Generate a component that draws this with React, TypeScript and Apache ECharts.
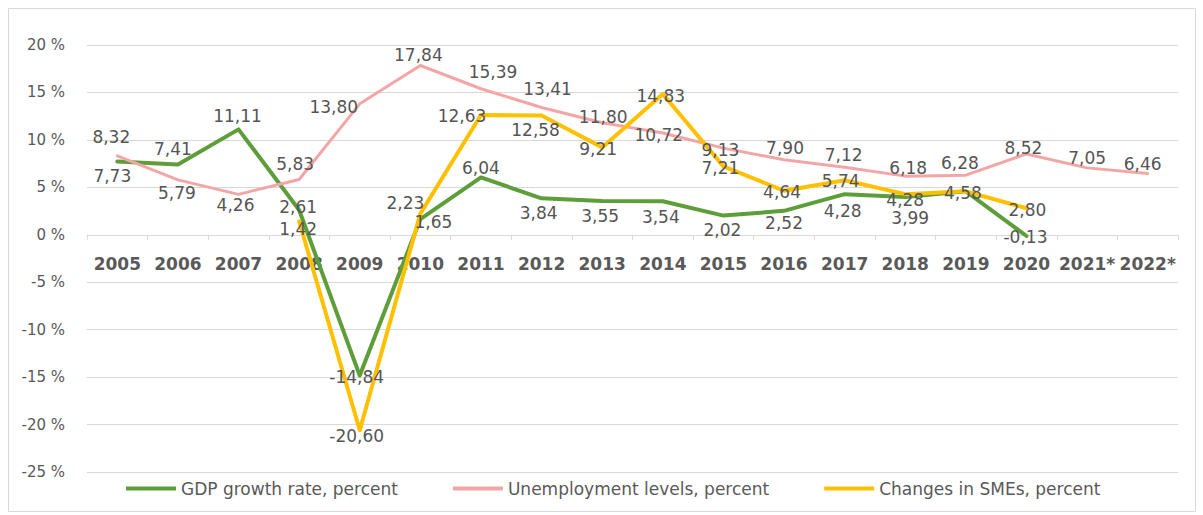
import React, { useEffect, useRef } from "react";
import * as echarts from "echarts";

const years = ["2005", "2006", "2007", "2008", "2009", "2010", "2011", "2012", "2013", "2014", "2015", "2016", "2017", "2018", "2019", "2020", "2021*", "2022*"];
const gdpGrowth = [7.73, 7.41, 11.11, 2.61, -14.84, 1.65, 6.04, 3.84, 3.55, 3.54, 2.02, 2.52, 4.28, 3.99, 4.58, -0.13, null, null];
const unemployment = [8.32, 5.79, 4.26, 5.83, 13.8, 17.84, 15.39, 13.41, 11.8, 10.72, 9.13, 7.9, 7.12, 6.18, 6.28, 8.52, 7.05, 6.46];
const smeChanges = [null, null, null, 1.42, -20.6, 2.23, 12.63, 12.58, 9.21, 14.83, 7.21, 4.64, 5.74, 4.28, 4.58, 2.8, null, null];

const seriesNames = ["GDP growth rate, percent", "Unemployment levels, percent", "Changes in SMEs, percent"];
const yTicks = { min: -25, max: 20, step: 5 };

// label offsets (pixels from point), null = hidden
const gdpLabelOffsets = [[-5, 15], [-5, -15], [-1, -13], [-1, -3], [-3, 1], [13, 3], [0, -9], [-3, 15], [-2, 15], [-2, 16], [-1, 14], [0, 12], [-2, 17], [5, 21], null, [-1, 1], null, null];
const unempLabelOffsets = [[-6, -19], [-1, 13], [-3, 11], [-4, -15], [-26, 3], [-2, -10], [12, -17], [6, -19], [1, -6], [-4, 2], [-3, 2], [1, -12], [-1, -12], [3, -8], [-6, -12], [-3, -6], [0, -10], [-5, -9]];
const smeLabelOffsets = [null, null, null, [-1, 8], [-3, 6], [-15, -11], [-19, 1], [-6, 15], [-4, 2], [-2, 2], [-3, 2], [-2, 1], [-4, 1], [0, 6], [-3, 2], [1, 2], null, null];

const FONT = '"DejaVu Sans", sans-serif';
const TEXT = "#595959";
const GRID = "#d9d9d9";
const colors = ["#5E9E3A", "#F4A6A6", "#FFC000"];

function buildData(vals: (number | null)[], offs: (number[] | null)[]) {
  return vals.map((v, i) =>
    v == null
      ? "-"
      : { value: v, label: offs[i] ? { show: true, offset: offs[i] } : { show: false } }
  );
}

export default function App() {
  const ref = useRef<HTMLDivElement>(null);
  useEffect(() => {
    const chart = echarts.init(ref.current!, null, { renderer: "svg" });
    const mkSeries = (name: string, vals: (number | null)[], offs: (number[] | null)[], color: string, width: number) => ({
      name,
      type: "line",
      xAxisIndex: 0,
      yAxisIndex: 0,
      data: buildData(vals, offs),
      symbol: "circle",
      symbolSize: 1,
      showSymbol: true,
      itemStyle: { color },
      lineStyle: { color, width, cap: "round", join: "round" },
      connectNulls: false,
      label: {
        show: true,
        position: "inside",
        fontFamily: FONT,
        fontSize: 17,
        color: "#555",
        formatter: (p: any) => Number(p.value).toFixed(2).replace(".", ","),
      },
    });
    chart.setOption({
      animation: false,
      backgroundColor: "#fff",
      graphic: [
        {
          type: "rect",
          shape: { x: 8.5, y: 8.5, width: 1187, height: 503 },
          style: { fill: "none", stroke: GRID, lineWidth: 1 },
          silent: true,
        },
      ],
      grid: [
        { left: 87, right: 25, top: 45, bottom: 43, containLabel: false },
        // label band: its bottom edge sits on the 0 % line
        { left: 87, right: 25, top: 45, height: 189, containLabel: false },
      ],
      legend: {
        data: seriesNames,
        left: 126,
        top: 480,
        padding: 0,
        itemGap: 55,
        itemWidth: 50,
        itemHeight: 4,
        icon: "rect",
        textStyle: { fontFamily: FONT, fontSize: 17, color: TEXT },
      },
      xAxis: [
        {
          type: "category",
          gridIndex: 0,
          data: years,
          boundaryGap: true,
          axisLine: { onZero: true, lineStyle: { color: GRID, width: 1 } },
          axisTick: { show: true, length: 5, lineStyle: { color: GRID } },
          axisLabel: { show: false },
          splitLine: { show: false },
        },
        {
          type: "category",
          gridIndex: 1,
          position: "bottom",
          data: years,
          boundaryGap: true,
          axisLine: { show: false, onZero: false },
          axisTick: { show: false },
          axisLabel: { interval: 0, fontFamily: FONT, fontWeight: "bold", fontSize: 17, color: TEXT, margin: 21 },
          splitLine: { show: false },
        },
      ],
      yAxis: [
        {
          type: "value",
          gridIndex: 0,
          min: yTicks.min,
          max: yTicks.max,
          interval: yTicks.step,
          axisLine: { show: false },
          axisTick: { show: false },
          splitLine: { lineStyle: { color: GRID, width: 1 } },
          axisLabel: { fontFamily: FONT, fontSize: 15, color: TEXT, margin: 22, formatter: (v: number) => `${v} %` },
        },
        {
          type: "value",
          gridIndex: 1,
          min: 0,
          max: 1,
          show: false,
          splitLine: { show: false },
        },
      ],
      series: [
        mkSeries(seriesNames[0], gdpGrowth, gdpLabelOffsets, colors[0], 4),
        mkSeries(seriesNames[1], unemployment, unempLabelOffsets, colors[1], 3),
        mkSeries(seriesNames[2], smeChanges, smeLabelOffsets, colors[2], 4),
      ],
    });
    return () => chart.dispose();
  }, []);
  return <div ref={ref} style={{ position: "absolute", left: 0, top: 0, width: 1203, height: 515 }} />;
}
